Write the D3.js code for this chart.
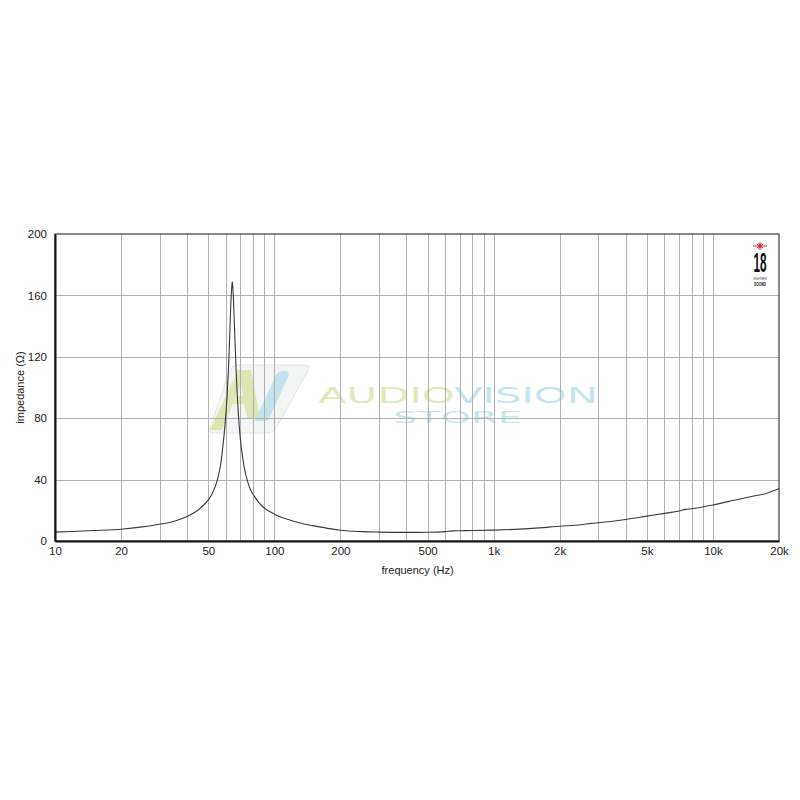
<!DOCTYPE html>
<html>
<head>
<meta charset="utf-8">
<script src="https://cdn.jsdelivr.net/npm/d3@7"></script>
<style>
  html, body { margin: 0; padding: 0; background: #fff; }
  svg { display: block; }
</style>
</head>
<body>
<svg id="chart" width="800" height="800"></svg>
<script>
// ---- Data ----
const frequencies = [10, 12, 15, 20, 25, 30, 35, 40, 45, 50, 52, 54, 55, 56, 57, 58, 59, 60, 61, 62, 63, 63.5, 64, 64.3, 64.6, 65, 65.5, 66, 67, 68, 69, 70, 72, 74, 76, 78, 80, 85, 90, 100, 110, 125, 131, 150, 175, 200, 250, 300, 400, 500, 600, 650, 700, 800, 1000, 1250, 1500, 2000, 2500, 2800, 3000, 4000, 5000, 6000, 7000, 7500, 8000, 10000, 12500, 15000, 17500, 20000];
const impedance   = [5.8, 6.2, 6.8, 7.7, 9.2, 10.9, 12.9, 16.0, 20.2, 26.8, 30.6, 36.2, 39.8, 44.5, 50.5, 59.0, 69.0, 81.0, 96.0, 117.0, 145.0, 158.0, 166.0, 168.8, 166.5, 160.0, 148.0, 135.0, 110.0, 91.0, 77.0, 66.5, 52.5, 43.5, 37.5, 33.0, 30.5, 25.0, 21.5, 17.5, 15.0, 12.6, 11.7, 10.0, 8.2, 7.0, 6.1, 5.8, 5.6, 5.7, 6.1, 6.6, 6.7, 6.8, 7.1, 7.6, 8.2, 9.6, 10.6, 11.5, 11.9, 14.0, 16.2, 18.0, 19.5, 20.6, 21.0, 23.5, 26.5, 29.0, 31.0, 34.0];

const xTickValues = [10, 20, 50, 100, 200, 500, 1000, 2000, 5000, 10000, 20000];
const xTickLabels = ["10", "20", "50", "100", "200", "500", "1k", "2k", "5k", "10k", "20k"];
const xGridValues = [20, 30, 40, 50, 60, 70, 80, 90, 100, 200, 300, 400, 500, 600, 700, 800, 900, 1000, 2000, 3000, 4000, 5000, 6000, 7000, 8000, 9000, 10000];
const yTickValues = [0, 40, 80, 120, 160, 200];
const yGridValues = [40, 80, 120, 160];

const xLabel = "frequency (Hz)";
const yLabel = "impedance (\u03A9)";

// ---- Layout ----
const svg = d3.select("#chart");
const pLeft = 55, pTop = 234, pWidth = 724, pHeight = 307;

const x = d3.scaleLog().domain([10, 20000]).range([pLeft, pLeft + pWidth]);
const y = d3.scaleLinear().domain([0, 200]).range([pTop + pHeight, pTop]);

const font = "'Liberation Sans', Arial, Helvetica, sans-serif";

// ---- Watermark ----
const wm = svg.append("g").attr("class", "watermark");
wm.append("path")
  .attr("d", "M236,365 L304,365 Q311,365 308,371 L276,428 Q273,433 267,433 L214,433 Q207,433 210,427 L230,370 Q232,365 238,365 Z")
  .attr("fill", "#f3f4f4").attr("stroke", "#e4e6e6").attr("stroke-width", 1);
// green "A"
wm.append("path")
  .attr("d", "M210,430 L238,370 L251,370 L260,418 L247,418 L244,404 L232,404 L237,396 L243,396 L241,384 L222,430 Z")
  .attr("fill", "#dce8b3");
// blue slash
wm.append("path")
  .attr("d", "M284,371 Q291,370 288,377 L268,421 L255,421 L276,375 Q278,371 284,371 Z")
  .attr("fill", "#c2e4ec");
wm.append("text")
  .attr("x", 318).attr("y", 403)
  .attr("font-family", "'DejaVu Sans', sans-serif")
  .attr("font-size", 21)
  .attr("textLength", 280).attr("lengthAdjust", "spacingAndGlyphs")
  .selectAll("tspan")
  .data([["AUDIO", "#e0ebbd"], ["VISION", "#c6e6ee"]])
  .join("tspan").attr("fill", d => d[1]).text(d => d[0]);
wm.append("text")
  .attr("x", 393).attr("y", 423)
  .attr("font-family", "'DejaVu Sans', sans-serif")
  .attr("font-size", 16.5)
  .attr("textLength", 129).attr("lengthAdjust", "spacingAndGlyphs")
  .attr("fill", "#c6e6ee")
  .text("STORE");

// ---- Grid ----
const grid = svg.append("g").attr("class", "grid");
grid.selectAll("line.vx").data(xGridValues).join("line")
  .attr("class", "vx")
  .attr("x1", d => Math.round(x(d)) + 0.5).attr("x2", d => Math.round(x(d)) + 0.5)
  .attr("y1", pTop).attr("y2", pTop + pHeight)
  .attr("stroke", "#b0b0b0").attr("stroke-width", 1);
grid.selectAll("line.hy").data(yGridValues).join("line")
  .attr("class", "hy")
  .attr("x1", pLeft).attr("x2", pLeft + pWidth)
  .attr("y1", d => Math.round(y(d)) + 0.5).attr("y2", d => Math.round(y(d)) + 0.5)
  .attr("stroke", "#b0b0b0").attr("stroke-width", 1);

// ---- Curve ----
const data = frequencies.map((f, i) => ({ f, z: impedance[i] }));
const line = d3.line().x(d => x(d.f)).y(d => y(d.z)).curve(d3.curveMonotoneX);
svg.append("path").datum(data)
  .attr("d", line)
  .attr("fill", "none").attr("stroke", "#3a3a3a").attr("stroke-width", 1.1);

// ---- Frame ----
svg.append("rect")
  .attr("x", pLeft).attr("y", pTop).attr("width", pWidth).attr("height", pHeight)
  .attr("fill", "none").attr("stroke", "#3c3c3c").attr("stroke-width", 1.2);

// ---- Axes ----
const xAxis = d3.axisBottom(x).tickValues(xTickValues)
  .tickFormat((d, i) => xTickLabels[i]).tickSize(0).tickPadding(6);
const gx = svg.append("g").attr("transform", `translate(0,${pTop + pHeight})`).call(xAxis);
gx.select(".domain").attr("stroke", "#111").attr("stroke-width", 2);
gx.selectAll("text").attr("font-family", font).attr("font-size", 11.5).attr("fill", "#222");

const yAxis = d3.axisLeft(y).tickValues(yTickValues).tickSize(0).tickPadding(8);
const gy = svg.append("g").attr("transform", `translate(${pLeft},0)`).call(yAxis);
gy.select(".domain").attr("stroke", "#111").attr("stroke-width", 2);
gy.selectAll("text").attr("font-family", font).attr("font-size", 11.5).attr("fill", "#222");

svg.append("text")
  .attr("x", x(500) - 10).attr("y", 574)
  .attr("text-anchor", "middle")
  .attr("font-family", font).attr("font-size", 11).attr("fill", "#222")
  .text(xLabel);
svg.append("text")
  .attr("transform", `translate(24,${pTop + pHeight / 2}) rotate(-90)`)
  .attr("text-anchor", "middle")
  .attr("font-family", font).attr("font-size", 11).attr("fill", "#222")
  .text(yLabel);

// ---- Logo (18 Sound) ----
const logo = svg.append("g").attr("transform", "translate(760,246)");
const rays = [[0, 7], [180, 7], [90, 4], [270, 4], [30, 3.5], [150, 3.5], [210, 3.5], [330, 3.5], [60, 3], [120, 3], [240, 3], [300, 3]];
rays.forEach(([a, r]) => {
  logo.append("line")
    .attr("x1", 0).attr("y1", 0)
    .attr("x2", r * Math.cos(a * Math.PI / 180)).attr("y2", r * Math.sin(a * Math.PI / 180))
    .attr("stroke", "#c8282d").attr("stroke-width", 0.9);
});
logo.append("circle").attr("r", 1.5).attr("fill", "#c8282d");
logo.append("text")
  .attr("x", 0).attr("y", 26)
  .attr("text-anchor", "middle")
  .attr("font-family", "'Liberation Sans Narrow', 'Liberation Sans', Arial, sans-serif")
  .attr("font-weight", "bold").attr("font-size", 27)
  .attr("textLength", 13).attr("lengthAdjust", "spacingAndGlyphs")
  .attr("fill", "#111").text("18");
logo.append("text")
  .attr("x", 0).attr("y", 34.4)
  .attr("text-anchor", "middle")
  .attr("font-family", font).attr("font-size", 2.6).attr("fill", "#333")
  .text("EIGHTEEN");
logo.append("text")
  .attr("x", 0).attr("y", 39.5)
  .attr("text-anchor", "middle")
  .attr("font-family", font).attr("font-weight", "bold").attr("font-size", 4.5)
  .attr("textLength", 12).attr("lengthAdjust", "spacingAndGlyphs")
  .attr("fill", "#111").text("SOUND");
</script>
</body>
</html>
